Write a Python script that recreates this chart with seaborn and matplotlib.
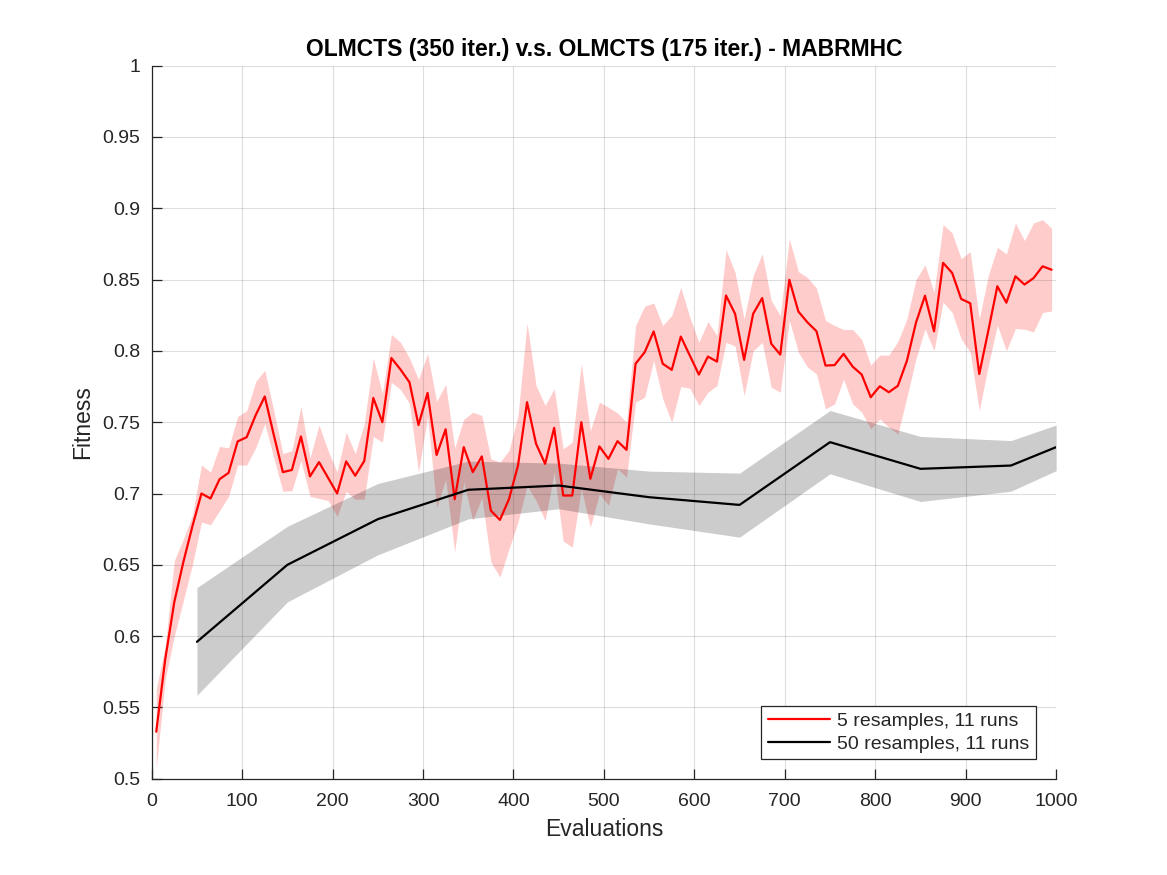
import numpy as np
import pandas as pd
import seaborn as sns
import matplotlib.pyplot as plt
from matplotlib.ticker import MultipleLocator, FormatStrFormatter

# 5 resamples, 11 runs (mean and band), every 10 evaluations
red_x = list(range(5, 1000, 10))
red_mean = [
    0.533, 0.584, 0.624, 0.652, 0.677, 0.700, 0.6965, 0.710, 0.7145, 0.7365,
    0.7395, 0.755, 0.768, 0.741, 0.715, 0.7165, 0.740, 0.712, 0.722, 0.711,
    0.700, 0.7225, 0.7125, 0.7228, 0.767, 0.750, 0.795, 0.787, 0.778, 0.748,
    0.7705, 0.727, 0.745, 0.696, 0.7325, 0.715, 0.726, 0.688, 0.6815, 0.696,
    0.7196, 0.764, 0.7348, 0.7208, 0.746, 0.6986, 0.6986, 0.750, 0.7103, 0.733,
    0.7243, 0.7367, 0.7306, 0.791, 0.799, 0.8136, 0.791, 0.7867, 0.810, 0.7967,
    0.7834, 0.796, 0.7925, 0.8388, 0.826, 0.7937, 0.826, 0.837, 0.805, 0.7974,
    0.8498, 0.8276, 0.820, 0.8138, 0.7897, 0.790, 0.7979, 0.789, 0.7834, 0.7675,
    0.7752, 0.771, 0.7755, 0.793, 0.8197, 0.8387, 0.8137, 0.8617, 0.8547, 0.8364,
    0.8334, 0.7838, 0.8141, 0.8453, 0.8338, 0.8523, 0.8465, 0.851, 0.8593, 0.8569,
]
red_upper = [
    0.563, 0.593, 0.653, 0.668, 0.685, 0.720, 0.715, 0.733, 0.732, 0.754,
    0.758, 0.7785, 0.7865, 0.758, 0.728, 0.730, 0.761, 0.725, 0.748, 0.730,
    0.715, 0.743, 0.728, 0.749, 0.795, 0.770, 0.8115, 0.806, 0.795, 0.780,
    0.798, 0.7645, 0.7765, 0.732, 0.752, 0.757, 0.7547, 0.7243, 0.722, 0.730,
    0.7547, 0.8196, 0.7757, 0.7617, 0.7734, 0.7313, 0.736, 0.791, 0.744, 0.764,
    0.7605, 0.7565, 0.750, 0.8178, 0.8313, 0.8336, 0.8178, 0.8248, 0.8446, 0.8236,
    0.806, 0.8206, 0.8107, 0.871, 0.855, 0.8224, 0.8528, 0.868, 0.8353, 0.8248,
    0.8785, 0.8556, 0.8514, 0.844, 0.8213, 0.8178, 0.815, 0.815, 0.808, 0.790,
    0.797, 0.797, 0.8065, 0.8224, 0.850, 0.8603, 0.8411, 0.8886, 0.8827, 0.8645,
    0.8696, 0.8224, 0.8528, 0.8726, 0.8679, 0.8897, 0.8773, 0.8897, 0.892, 0.886,
]
red_lower = [
    0.507, 0.570, 0.600, 0.625, 0.650, 0.680, 0.678, 0.688, 0.698, 0.720,
    0.720, 0.732, 0.749, 0.725, 0.7015, 0.702, 0.723, 0.698, 0.6965, 0.695,
    0.684, 0.7015, 0.696, 0.696, 0.740, 0.736, 0.778, 0.773, 0.763, 0.715,
    0.754, 0.690, 0.710, 0.659, 0.708, 0.681, 0.697, 0.652, 0.6414, 0.661,
    0.680, 0.7056, 0.695, 0.681, 0.715, 0.6666, 0.6624, 0.7033, 0.6764, 0.700,
    0.6916, 0.7173, 0.7114, 0.764, 0.7675, 0.7932, 0.7664, 0.750, 0.775, 0.7738,
    0.7617, 0.771, 0.7757, 0.806, 0.8033, 0.7687, 0.800, 0.806, 0.7745, 0.771,
    0.8213, 0.799, 0.7886, 0.7839, 0.7593, 0.7628, 0.780, 0.7628, 0.757, 0.7453,
    0.7523, 0.7465, 0.7418, 0.7675, 0.7944, 0.8154, 0.800, 0.8341, 0.827, 0.8084,
    0.799, 0.7582, 0.7897, 0.818, 0.800, 0.8157, 0.8152, 0.8133, 0.8269, 0.828,
]

# 50 resamples, 11 runs
black_x = [50, 150, 250, 350, 450, 550, 650, 750, 850, 950, 1000]
black_mean = [0.596, 0.650, 0.682, 0.7026, 0.7056, 0.6974, 0.692, 0.736, 0.7173, 0.7196, 0.7325]
black_upper = [0.634, 0.677, 0.707, 0.7227, 0.7213, 0.7157, 0.7143, 0.7582, 0.740, 0.7371, 0.748]
black_lower = [0.5585, 0.624, 0.657, 0.6822, 0.6893, 0.6787, 0.6694, 0.7138, 0.6944, 0.7016, 0.716]

labels = ['5 resamples, 11 runs', '50 resamples, 11 runs']

sns.set_style('white')
plt.rcParams['font.family'] = ['Liberation Sans', 'DejaVu Sans']

df = pd.concat([
    pd.DataFrame({'Evaluations': red_x, 'Fitness': red_mean, 'series': labels[0]}),
    pd.DataFrame({'Evaluations': black_x, 'Fitness': black_mean, 'series': labels[1]}),
])

fig = plt.figure(figsize=(11.67, 8.75), dpi=100)
ax = fig.add_axes([0.13, 0.11, 0.775, 0.815])

axcol = (0.15, 0.15, 0.15)

# shaded bands first, lines on top
ax.fill_between(red_x, red_lower, red_upper, color='red', alpha=0.2, linewidth=0, zorder=1)
ax.fill_between(black_x, black_lower, black_upper, color='black', alpha=0.2, linewidth=0, zorder=1)

sns.lineplot(data=df, x='Evaluations', y='Fitness', hue='series',
             palette={labels[0]: '#ff0000', labels[1]: '#000000'},
             linewidth=1.6, estimator=None, sort=False, ax=ax, zorder=3)

ax.set_xlim(0, 1000)
ax.set_ylim(0.5, 1)
ax.xaxis.set_major_locator(MultipleLocator(100))
ax.yaxis.set_major_locator(MultipleLocator(0.05))
ax.yaxis.set_major_formatter(FormatStrFormatter('%g'))

# grid drawn over the bands, like the original
ax.set_axisbelow(False)
ax.grid(True, color=axcol, alpha=0.15, linewidth=0.8, zorder=2)

for s in ['top', 'right']:
    ax.spines[s].set_visible(False)
for s in ['left', 'bottom']:
    ax.spines[s].set_color(axcol)
    ax.spines[s].set_linewidth(0.9)
    ax.spines[s].set_zorder(4)

ax.tick_params(axis='both', direction='in', length=7, width=0.9, colors=axcol,
               labelsize=14, left=True, bottom=True)
ax.tick_params(axis='x', pad=10)
ax.tick_params(axis='y', pad=8)

ax.set_xlabel('Evaluations', fontsize=16.5, color=axcol, labelpad=6)
ax.set_ylabel('Fitness', fontsize=16.5, color=axcol, labelpad=6)
ax.set_title('OLMCTS (350 iter.) v.s. OLMCTS (175 iter.) - MABRMHC',
             fontsize=16.5, fontweight='bold', color='black', pad=7)

leg = ax.legend(loc='lower right', bbox_to_anchor=(0.978, 0.027), fontsize=14,
                frameon=True, fancybox=False, framealpha=1, edgecolor=axcol,
                handlelength=3.2, handletextpad=0.35, labelspacing=0.25,
                borderpad=0.35, borderaxespad=0)
leg.get_frame().set_linewidth(0.9)
leg.set_title(None)

fig.savefig('out.png', dpi=100)
